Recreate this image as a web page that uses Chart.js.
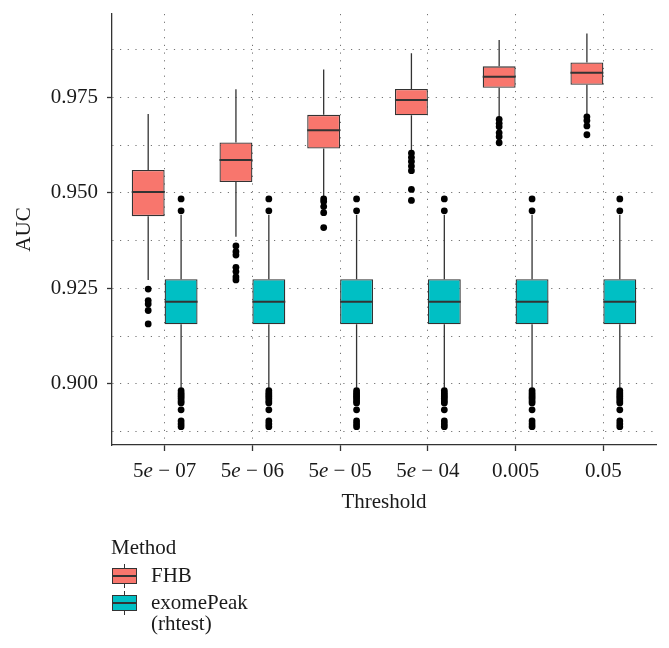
<!DOCTYPE html>
<html>
<head>
<meta charset="utf-8">
<script src="https://cdn.jsdelivr.net/npm/chart.js@4.4.0/dist/chart.umd.min.js"></script>
<style>
  body { margin: 0; background: #fff; }
  #wrap { position: relative; width: 669px; height: 648px; }
  #legend { position: absolute; left: 111px; top: 534px; font: 21px "Liberation Serif", serif; color: #1a1a1a; }
  #legend .ttl { position: absolute; left: 0; top: 0; line-height: 26px; white-space: nowrap; }
  #legend .key { position: absolute; left: 1px; width: 25px; height: 24px; }
  #legend .key i { position: absolute; display: block; }
  #legend .wh { left: 12px; top: 0; width: 1.3px; height: 24px; background: #333; }
  #legend .bx { left: 0; top: 4px; width: 23px; height: 14px; border: 1px solid #333; }
  #legend .md { left: 0; top: 11px; width: 25px; height: 2px; background: #333; }
  #legend .lab { position: absolute; left: 40px; line-height: 21px; white-space: nowrap; }
</style>
</head>
<body>
<div id="wrap">
  <canvas id="boxChart" width="669" height="648"></canvas>
  <div id="legend">
    <div class="ttl">Method</div>
    <div class="key" style="top:30px"><i class="wh"></i><i class="bx" style="background:#F8766D"></i><i class="md"></i></div>
    <div class="lab" style="top:31px">FHB</div>
    <div class="key" style="top:57px"><i class="wh"></i><i class="bx" style="background:#00BFC4"></i><i class="md"></i></div>
    <div class="lab" style="top:58px">exomePeak<br>(rhtest)</div>
  </div>
</div>
<script>
const thresholds = ['5e − 07', '5e − 06', '5e − 05', '5e − 04', '0.005', '0.05'];
const yTicks = [0.8875, 0.900, 0.9125, 0.925, 0.9375, 0.950, 0.9625, 0.975, 0.9875];

// FHB boxes
const fhbLow  = [0.9272, 0.9385, 0.9490, 0.9604, 0.9698, 0.9704];
const fhbQ1   = [0.9439, 0.9528, 0.9616, 0.9703, 0.9775, 0.9783];
const fhbMed  = [0.9502, 0.9586, 0.9664, 0.9743, 0.9804, 0.9814];
const fhbQ3   = [0.9560, 0.9632, 0.9704, 0.9772, 0.9831, 0.9841];
const fhbHigh = [0.9706, 0.9771, 0.9823, 0.9865, 0.9900, 0.9917];
const fhbOut = [
  [0.9248, 0.9218, 0.9209, 0.9192, 0.9157],
  [0.9361, 0.9346, 0.9337, 0.9305, 0.9294, 0.9280, 0.9272],
  [0.9484, 0.9477, 0.9464, 0.9448, 0.9409],
  [0.9604, 0.9593, 0.9582, 0.9570, 0.9558, 0.9509, 0.9480],
  [0.9692, 0.9682, 0.9673, 0.9657, 0.9647, 0.9631],
  [0.9699, 0.9689, 0.9675, 0.9652]
];

// exomePeak (rhtest) boxes, same at every threshold
const expLow  = [0.8990, 0.8990, 0.8990, 0.8990, 0.8990, 0.8990];
const expQ1   = [0.9156, 0.9156, 0.9156, 0.9156, 0.9156, 0.9156];
const expMed  = [0.9215, 0.9215, 0.9215, 0.9215, 0.9215, 0.9215];
const expQ3   = [0.9274, 0.9274, 0.9274, 0.9274, 0.9274, 0.9274];
const expHigh = [0.9442, 0.9442, 0.9442, 0.9442, 0.9442, 0.9442];
const expOutSet = [0.9484, 0.9453, 0.8982, 0.8976, 0.8971, 0.8966, 0.8961, 0.8955, 0.8950, 0.8932, 0.8903, 0.8895, 0.8888];
const expOut = thresholds.map(() => expOutSet);

const FONT = '"Liberation Serif", serif';
const INK = '#333333';
const boxWidth = 0.375;   // in category units, ggplot dodge

function boxData(q1, q3) {
  return thresholds.map((t, i) => ({ x: i, y: [q1[i], q3[i]] }));
}
function outData(outs, shift) {
  const pts = [];
  outs.forEach((list, i) => list.forEach(v => pts.push({ x: i + shift, y: v })));
  return pts;
}

const boxStats = [
  { low: fhbLow, med: fhbMed, q1: fhbQ1, q3: fhbQ3, high: fhbHigh },
  { low: expLow, med: expMed, q1: expQ1, q3: expQ3, high: expHigh }
];

// whiskers and medians, drawn from the bar elements and the y scale
const boxParts = {
  id: 'boxParts',
  beforeDatasetsDraw(chart) {
    const ctx = chart.ctx, y = chart.scales.y;
    ctx.save();
    ctx.strokeStyle = INK;
    ctx.lineWidth = 1.3;
    [0, 1].forEach(d => {
      const s = boxStats[d];
      chart.getDatasetMeta(d).data.forEach((bar, i) => {
        ctx.beginPath();
        ctx.moveTo(bar.x, y.getPixelForValue(s.high[i]));
        ctx.lineTo(bar.x, y.getPixelForValue(s.q3[i]));
        ctx.moveTo(bar.x, y.getPixelForValue(s.q1[i]));
        ctx.lineTo(bar.x, y.getPixelForValue(s.low[i]));
        ctx.stroke();
      });
    });
    ctx.restore();
  },
  afterDatasetsDraw(chart) {
    const ctx = chart.ctx, y = chart.scales.y;
    ctx.save();
    ctx.strokeStyle = INK;
    ctx.lineWidth = 2;
    [0, 1].forEach(d => {
      const s = boxStats[d];
      chart.getDatasetMeta(d).data.forEach((bar, i) => {
        const py = y.getPixelForValue(s.med[i]);
        ctx.beginPath();
        ctx.moveTo(bar.x - bar.width / 2, py);
        ctx.lineTo(bar.x + bar.width / 2, py);
        ctx.stroke();
      });
    });
    ctx.restore();
  },
  afterDraw(chart) {
    // x tick labels with italic e
    const ctx = chart.ctx, x = chart.scales.x;
    const ty = chart.chartArea.bottom + 26;
    ctx.save();
    ctx.fillStyle = '#1a1a1a';
    ctx.textBaseline = 'middle';
    ctx.textAlign = 'left';
    thresholds.forEach((lab, i) => {
      const m = lab.match(/^(\d)e(.*)$/);
      const parts = m ? [[m[1], ''], ['e', 'italic '], [m[2], '']] : [[lab, '']];
      let w = 0;
      parts.forEach(p => { ctx.font = p[1] + '21px ' + FONT; w += ctx.measureText(p[0]).width; });
      let px = x.getPixelForValue(i) - w / 2;
      parts.forEach(p => {
        ctx.font = p[1] + '21px ' + FONT;
        ctx.fillText(p[0], px, ty);
        px += ctx.measureText(p[0]).width;
      });
    });
    ctx.restore();
  }
};

new Chart(document.getElementById('boxChart'), {
  type: 'bar',
  data: {
    datasets: [
      { label: 'FHB', data: boxData(fhbQ1, fhbQ3), backgroundColor: '#F8766D',
        borderColor: INK, borderWidth: 1.3, borderSkipped: false, order: 3 },
      { label: 'exomePeak (rhtest)', data: boxData(expQ1, expQ3), backgroundColor: '#00BFC4',
        borderColor: INK, borderWidth: 1.3, borderSkipped: false, order: 3 },
      { type: 'scatter', label: 'FHB outliers', data: outData(fhbOut, -boxWidth / 2),
        pointRadius: 3.4, pointBackgroundColor: '#000', pointBorderWidth: 0, order: 1 },
      { type: 'scatter', label: 'exomePeak outliers', data: outData(expOut, boxWidth / 2),
        pointRadius: 3.4, pointBackgroundColor: '#000', pointBorderWidth: 0, order: 1 }
    ]
  },
  options: {
    responsive: false,
    animation: false,
    devicePixelRatio: 1,
    layout: { padding: { top: 14, right: 13, left: 0, bottom: 133 } },
    datasets: { bar: { grouped: true, categoryPercentage: 0.75, barPercentage: 1.0 } },
    plugins: { legend: { display: false }, tooltip: { enabled: false } },
    scales: {
      x: {
        type: 'linear',
        min: -0.6,
        max: 5.6,
        offset: false,
        afterBuildTicks: s => { s.ticks = thresholds.map((t, i) => ({ value: i })); },
        afterFit: s => { s.height = 70; s.paddingLeft = 0; s.paddingRight = 0; },
        ticks: { display: false },
        grid: { offset: false, color: 'rgba(0,0,0,0.55)', lineWidth: 1, tickLength: 6, tickColor: INK, tickWidth: 1.3 },
        border: { display: true, color: INK, width: 1.3, dash: [1.2, 6.5] },
        title: { display: true, text: 'Threshold', color: '#1a1a1a', font: { family: FONT, size: 21 }, padding: { top: 0, bottom: 0 } }
      },
      y: {
        min: 0.884,
        max: 0.9968,
        afterBuildTicks: s => { s.ticks = yTicks.map(v => ({ value: v })); },
        afterFit: s => { s.width = 112; s.paddingTop = 0; s.paddingBottom = 0; },
        ticks: {
          color: '#1a1a1a',
          font: { family: FONT, size: 21 },
          padding: 9,
          callback: (v, i) => (i % 2 === 1 ? v.toFixed(3) : '')
        },
        grid: {
          color: 'rgba(0,0,0,0.55)', lineWidth: 1, tickLength: 5, tickWidth: 1.3,
          tickColor: c => (c.index % 2 === 1 ? INK : 'rgba(0,0,0,0)')
        },
        border: { display: true, color: INK, width: 1.3, dash: [1.2, 6.5] },
        title: { display: true, text: 'AUC', color: '#1a1a1a', font: { family: FONT, size: 21 }, padding: { top: 12, bottom: 0 } }
      }
    }
  },
  plugins: [boxParts]
});
</script>
</body>
</html>
